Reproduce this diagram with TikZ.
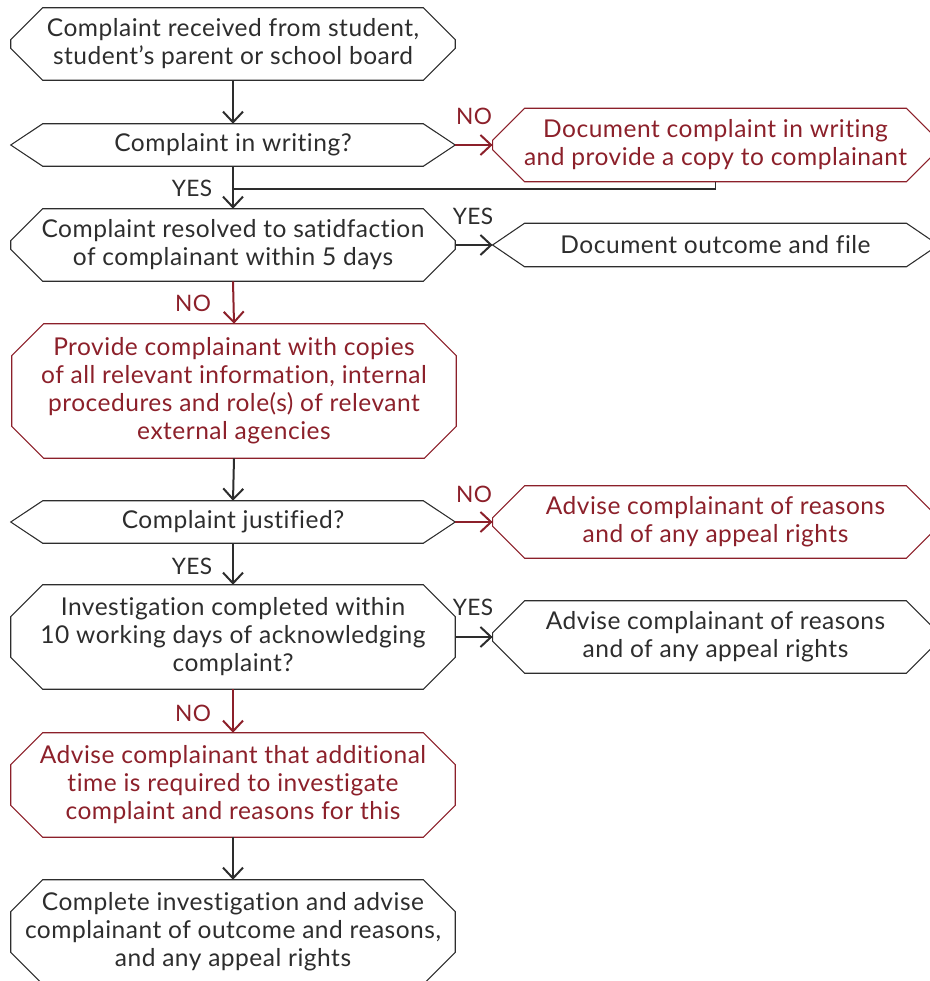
\documentclass[tikz,border=0pt]{standalone}
\usepackage{fontspec}
\setmainfont{Lato}[LetterSpace=2,Ligatures=NoCommon]
\usetikzlibrary{arrows.meta,calc}
\definecolor{ink}{RGB}{45,45,45}
\definecolor{brick}{RGB}{140,32,42}
\newcommand\hexo[2]{\draw[#2, line width=0.8pt, line join=miter] let \p1=(#1.north west), \p2=(#1.south east), \n1={min(24,(\y1-\y2)/2)} in (\x1+24pt,\y1) -- (\x2-24pt,\y1) -- (\x2,\y1-\n1) -- (\x2,\y2+\n1) -- (\x2-24pt,\y2) -- (\x1+24pt,\y2) -- (\x1,\y2+\n1) -- (\x1,\y1-\n1) -- cycle;}
\begin{document}
\begin{tikzpicture}[x=0.75pt,y=-0.75pt,
  txt/.style={font=\fontsize{18.4}{21}\selectfont, align=center, inner sep=0pt, text=ink},
  lbox/.style={txt, minimum width=333pt},
  rbox/.style={txt, minimum width=334pt},
  redtxt/.style={text=brick},
  lab/.style={font=\fontsize{17}{18}\selectfont, inner sep=0pt},
  arr/.style={line width=1.5pt, -{Straight Barb[length=8pt,width=15pt,line width=1.5pt]}},
  thinline/.style={line width=0.8pt, draw=ink}]
\useasboundingbox (0,0) rectangle (930,981);

% left column
\node[lbox, minimum height=54pt] (b1) at (233,44) {Complaint received from student,\\student’s parent or school board};
\node[lbox, minimum height=31.5pt] (b2) at (233,145) {Complaint in writing?};
\node[lbox, minimum height=54pt] (b3) at (233,245) {Complaint resolved to satidfaction\\of complainant within 5 days};
\node[lbox, redtxt, minimum height=100.5pt] (b4) at (234,391) {Provide complainant with copies\\of all relevant information, internal\\procedures and role(s) of relevant\\external agencies};
\node[lbox, minimum height=31.5pt] (b5) at (233,522) {Complaint justified?};
\node[lbox, minimum height=78pt] (b6) at (233,637) {Investigation completed within\\10 working days of acknowledging\\complaint?};
\node[lbox, redtxt, minimum height=78pt] (b7) at (233,785) {Advise complainant that additional\\time is required to investigate\\complaint and reasons for this};
\node[lbox, minimum height=78pt] (b8) at (233,932) {Complete investigation and advise\\complainant of outcome and reasons,\\and any appeal rights};

% right column
\node[rbox, redtxt, minimum height=54.75pt] (r1) at (715.5,145) {Document complaint in writing\\and provide a copy to complainant};
\node[rbox, minimum height=32.25pt] (r2) at (715.5,245) {Document outcome and file};
\node[rbox, redtxt, minimum height=54pt] (r3) at (715.5,522) {Advise complainant of reasons\\and of any appeal rights};
\node[rbox, minimum height=54pt] (r4) at (715.5,637) {Advise complainant of reasons\\and of any appeal rights};

% outlines
\hexo{b1}{ink}
\hexo{b2}{ink}
\hexo{b3}{ink}
\hexo{b4}{brick}
\hexo{b5}{ink}
\hexo{b6}{ink}
\hexo{b7}{brick}
\hexo{b8}{ink}
\hexo{r1}{brick}
\hexo{r2}{ink}
\hexo{r3}{brick}
\hexo{r4}{ink}

% connectors
\draw[arr, ink] (b1.south) -- (b2.north);
\draw[arr, brick] (b2.east) -- (r1.west);
\draw[arr, ink] (b2.south) -- (b3.north);
\coordinate (j) at (233,189);
\draw[thinline] (r1.south) |- (j);
\draw[arr, ink] (b3.east) -- (r2.west);
\draw[arr, brick] (b3.south) -- (b4.north);
\draw[arr, ink] (b4.south) -- (b5.north);
\draw[arr, brick] (b5.east) -- (r3.west);
\draw[arr, ink] (b5.south) -- (b6.north);
\draw[arr, ink] (b6.east) -- (r4.west);
\draw[arr, brick] (b6.south) -- (b7.north);
\draw[arr, ink] (b7.south) -- (b8.north);

% labels
\node[lab, text=brick] (l1) at (474,116) {NO};
\node[lab, text=ink] (l2) at (192,188) {YES};
\node[lab, text=ink] (l3) at (473,216) {YES};
\node[lab, text=brick] (l4) at (193,303) {NO};
\node[lab, text=brick] (l5) at (474,494) {NO};
\node[lab, text=ink] (l6) at (192,566) {YES};
\node[lab, text=ink] (l7) at (473,607) {YES};
\node[lab, text=brick] (l8) at (193,713) {NO};
\end{tikzpicture}
\end{document}
